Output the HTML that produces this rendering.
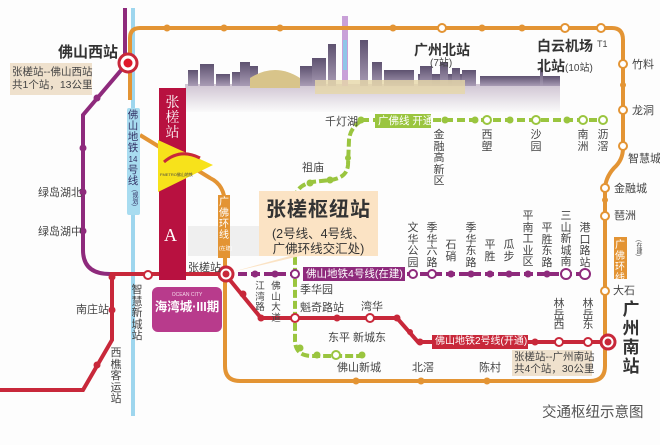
<!DOCTYPE html>
<html><head><meta charset="utf-8"><style>
body{margin:0;background:#fff}
#w{position:relative;width:660px;height:445px;overflow:hidden;background:#fdfdfd;font-family:"Liberation Sans","Noto Sans CJK SC",sans-serif;color:#444}
.t{position:absolute;font-size:11px;line-height:12px;white-space:nowrap}
.v{position:absolute;font-size:11px;line-height:11.5px;width:12px;text-align:center;word-break:break-all;white-space:normal}
.b{font-weight:bold;color:#333}
</style></head><body><div id="w">
<svg width="660" height="445" style="position:absolute;left:0;top:0">
<defs>
<linearGradient id="sk" x1="0" y1="0" x2="0" y2="1"><stop offset="0" stop-color="#5e5270"/><stop offset="1" stop-color="#a99cb5"/></linearGradient>
<linearGradient id="rf" x1="0" y1="0" x2="0" y2="1"><stop offset="0" stop-color="#cfc4d2"/><stop offset="1" stop-color="#fafafa"/></linearGradient>
</defs>
<rect x="185" y="84" width="375" height="28" fill="url(#rf)"/>
<g fill="url(#sk)">
<rect x="188" y="70" width="10" height="16"/><rect x="200" y="64" width="14" height="22"/><rect x="216" y="74" width="14" height="12"/><rect x="232" y="72" width="12" height="14"/>
<rect x="240" y="62" width="10" height="24"/><rect x="250" y="66" width="8" height="20"/><rect x="300" y="66" width="12" height="20"/>
<rect x="312" y="58" width="14" height="28"/><rect x="328" y="44" width="8" height="42"/><rect x="360" y="40" width="8" height="46"/>
<rect x="372" y="62" width="10" height="24"/><rect x="384" y="70" width="30" height="16"/><rect x="418" y="74" width="50" height="12"/>
<rect x="420" y="66" width="12" height="20"/><rect x="440" y="62" width="8" height="24"/><rect x="452" y="68" width="8" height="18"/><rect x="462" y="70" width="14" height="16"/><rect x="480" y="76" width="80" height="10"/>
<rect x="540" y="68" width="3" height="18"/>
</g>
<rect x="342" y="16" width="6" height="70" fill="#c9a0d8"/>
<rect x="343" y="40" width="4" height="30" fill="#8fc6e8"/>
<path d="M250 78 Q275 62 300 78 L300 88 L250 88Z" fill="#d8c48a"/>
<rect x="315" y="80" width="150" height="14" fill="#e6d7a8" opacity=".8"/>
<rect x="188" y="226" width="72" height="30" fill="#efefef"/>
<line x1="133" y1="8" x2="133" y2="416" stroke="#9ed6ee" stroke-width="4"/>
<path d="M130 100 L130 38 Q130 28 140 28 L612 28 Q623 28 623 40 L623 148 Q623 160 614 168 Q605 178 605 190 L605 366 Q605 381 590 381 L240 381 Q225 381 225 366 L225 205 Q225 185 210 178 L140 135" fill="none" stroke="#e39434" stroke-width="4"/>
<path d="M125 8 L125 55 L128 62 L83 115 L83 250 Q83 274 110 274 L120 274" fill="none" stroke="#8e2a7c" stroke-width="4"/>
<path d="M0 390 L83 390 L112 340 L112 274 L225 274 L261 318 L397 318 L418 342 L608 342" fill="none" stroke="#c8283a" stroke-width="4"/>
<path d="M225 274 L586 274" stroke="#8e2a7c" stroke-width="4" stroke-dasharray="9 4"/>
<path d="M361 120 L604 120" stroke="#9ac53f" stroke-width="4" stroke-dasharray="8 4"/>
<path d="M361 121 Q350 128 349 140 L348 165 Q347 178 330 180 L312 182 Q295 186 295 200 L295 340 Q295 356 312 356 L362 356" fill="none" stroke="#9ac53f" stroke-width="4" stroke-dasharray="8 3"/>
<g fill="#e39434">
<circle cx="167" cy="28" r="3.5"/><circle cx="224" cy="28" r="3.5"/><circle cx="280" cy="28" r="3.5"/><circle cx="393" cy="28" r="3.5"/><circle cx="482" cy="28" r="3.5"/><circle cx="522" cy="28" r="3.5"/>
<circle cx="623" cy="85" r="3"/><circle cx="605" cy="200" r="3"/><circle cx="356" cy="381" r="3.5"/><circle cx="421" cy="381" r="3.5"/><circle cx="487" cy="381" r="3.5"/>
</g>
<g fill="#fff" stroke="#e39434" stroke-width="2">
<circle cx="442" cy="28" r="4"/><circle cx="565" cy="28" r="4"/><circle cx="601" cy="28" r="4"/><circle cx="623" cy="64" r="4"/><circle cx="623" cy="110" r="4"/><circle cx="623" cy="146" r="4"/><circle cx="605" cy="188" r="4"/><circle cx="605" cy="216" r="4"/><circle cx="605" cy="291" r="4"/>
</g>
<g fill="#8e2a7c"><circle cx="97" cy="98" r="3.5"/><circle cx="83" cy="148" r="3.5"/><circle cx="83" cy="192" r="3.5"/><circle cx="83" cy="231" r="3.5"/>
<circle cx="255" cy="274" r="3.5"/><circle cx="275" cy="274" r="3.5"/><circle cx="451" cy="274" r="3.5"/><circle cx="471" cy="274" r="3.5"/><circle cx="490" cy="274" r="3.5"/><circle cx="509" cy="274" r="3.5"/><circle cx="528" cy="274" r="3.5"/><circle cx="547" cy="274" r="3.5"/></g>
<g fill="#fff" stroke="#8e2a7c" stroke-width="2"><circle cx="295" cy="274" r="4"/><circle cx="413" cy="274" r="4"/><circle cx="432" cy="274" r="4"/><circle cx="566" cy="274" r="5"/><circle cx="585" cy="274" r="5"/></g>
<g fill="#c8283a"><circle cx="112" cy="277" r="3.5"/><circle cx="112" cy="310" r="3.5"/><circle cx="97" cy="365" r="3.5"/><circle cx="243" cy="294" r="3.5"/><circle cx="261" cy="318" r="3.5"/><circle cx="337" cy="318" r="3.5"/><circle cx="397" cy="318" r="3.5"/><circle cx="410" cy="332" r="3"/><circle cx="420" cy="342" r="3.5"/><circle cx="535" cy="342" r="3.5"/></g>
<g fill="#fff" stroke="#c8283a" stroke-width="2"><circle cx="148" cy="275" r="4"/><circle cx="370" cy="318" r="4"/><circle cx="559" cy="342" r="4"/><circle cx="588" cy="342" r="4"/><circle cx="295" cy="318" r="4"/></g>
<g fill="#9ac53f"><circle cx="445" cy="120" r="3.5"/><circle cx="475" cy="120" r="3.5"/><circle cx="510" cy="120" r="3.5"/><circle cx="567" cy="120" r="3.5"/><circle cx="310" cy="183" r="3.5"/><circle cx="330" cy="180" r="3.5"/><circle cx="348" cy="158" r="3"/><circle cx="361" cy="120" r="3.5"/><circle cx="300" cy="348" r="3.5"/><circle cx="317" cy="355" r="3.5"/><circle cx="362" cy="355" r="3.5"/></g>
<g fill="#fff" stroke="#9ac53f" stroke-width="2"><circle cx="487" cy="120" r="4"/><circle cx="536" cy="120" r="4"/><circle cx="583" cy="120" r="4"/><circle cx="603" cy="120" r="4"/><circle cx="336" cy="355" r="4"/></g>
<circle cx="128" cy="63" r="9" fill="#fff" stroke="#c8283a" stroke-width="3"/><circle cx="128" cy="63" r="4.5" fill="#e0182a"/>
<circle cx="226" cy="274" r="7" fill="#fff" stroke="#c8283a" stroke-width="3"/><circle cx="226" cy="274" r="3.5" fill="#c8283a"/>
<circle cx="608" cy="342" r="7" fill="#fff" stroke="#c8283a" stroke-width="3"/><circle cx="608" cy="342" r="3.5" fill="#c8283a"/>
<rect x="159" y="88" width="27" height="192" fill="#b81140"/>
<path d="M158 140 L213 165 L158 192Z" fill="#f7e21b"/>
<path d="M164 162 Q180 148 200 158" fill="none" stroke="#c8283a" stroke-width="3"/>
<text x="160" y="176" font-size="4" fill="#444">FMETRO佛山地铁</text>
<rect x="152" y="287" width="70" height="45" rx="6" fill="#b83b8c"/>
<path d="M290 256 L232 272 L300 256Z" fill="#fbe3c4"/>
<rect x="259" y="191" width="119" height="65" fill="#fbe3c4"/>
<rect x="127" y="108" width="13" height="107" rx="2" fill="#a8dcf0"/>
<rect x="218" y="195" width="12" height="63" fill="#e39434"/>
<rect x="614" y="237" width="13" height="42" fill="#e39434"/>
<rect x="375" y="114" width="56" height="14" fill="#9ac53f"/>
<rect x="303" y="267" width="102" height="14" fill="#8e2a7c"/>
<rect x="432" y="335" width="96" height="14" fill="#c8283a"/>
<rect x="10" y="63" width="82" height="32" fill="#efe1cd"/>
<rect x="512" y="350" width="80" height="26" fill="#efe1cd"/>
</svg>
<div class="t b" style="left:58px;top:45px;font-size:15px;line-height:16px">佛山西站</div>
<div class="t" style="left:12px;top:66px;width:78px;text-align:center;font-size:10.5px;line-height:13px">张槎站--佛山西站<br>共1个站，13公里</div>
<div class="t" style="left:38px;top:187px">绿岛湖北</div>
<div class="t" style="left:38px;top:226px">绿岛湖中</div>
<div class="t" style="left:76px;top:304px">南庄站</div>
<div class="v" style="left:110px;top:348px">西樵客运站</div>
<div class="v" style="left:131px;top:285px">智慧新城站</div>
<div class="v" style="left:127px;top:110px;color:#336;font-size:10.5px;line-height:11px">佛山地铁<span style="font-size:8px;line-height:11px;display:block">14</span>号线</div>
<div class="t" style="left:128px;top:190px;font-size:6px;color:#336;writing-mode:vertical-rl">(规划)</div>
<div class="v" style="left:159px;top:95px;color:#fff;font-size:14px;line-height:15px;width:27px;font-family:'Noto Serif CJK SC',serif">张槎站</div>
<div class="t" style="left:164px;top:225px;color:#fff;font-size:18px;line-height:20px;font-family:'Liberation Serif',serif">A</div>
<div class="t" style="left:152px;top:292px;width:70px;text-align:center;color:#f5d8ea;font-size:5px;line-height:6px">OCEAN CITY</div>
<div class="t b" style="left:152px;top:300px;width:70px;text-align:center;color:#fff;font-size:12.5px;line-height:14px">海湾城·III期</div>
<div class="v" style="left:218px;top:197px;color:#fff;font-size:10px;line-height:11px">广佛环线</div>
<div class="t" style="left:219px;top:243px;font-size:5px;color:#fff">(在建)</div>
<div class="t" style="left:188px;top:262px">张槎站</div>
<div class="t b" style="left:259px;top:199px;width:119px;text-align:center;font-size:20px;line-height:22px;letter-spacing:1px">张槎枢纽站</div>
<div class="t" style="left:259px;top:227px;width:119px;text-align:center;font-size:12.5px;line-height:15px;color:#333">(2号线、4号线、<br>广佛环线交汇处)</div>
<div class="t" style="left:325px;top:116px">千灯湖</div>
<div class="t" style="left:302px;top:162px">祖庙</div>
<div class="t" style="left:378px;top:115px;color:#fff;font-size:10.5px">广佛线 开通</div>
<div class="v" style="left:433px;top:130px">金融高新区</div>
<div class="v" style="left:481px;top:130px">西塱</div>
<div class="v" style="left:530px;top:130px">沙园</div>
<div class="v" style="left:577px;top:130px">南洲</div>
<div class="v" style="left:597px;top:130px">沥滘</div>
<div class="t b" style="left:414px;top:42px;font-size:14px;line-height:16px">广州北站</div>
<div class="t" style="left:430px;top:58px;font-size:10px">(7站)</div>
<div class="t b" style="left:537px;top:38px;font-size:14px;line-height:16px">白云机场</div>
<div class="t" style="left:537px;top:60px;font-size:10px"><b style="font-size:14px;color:#333">北站</b>(10站)</div>
<div class="t" style="left:597px;top:38px;font-size:9px">T1</div>
<div class="t" style="left:632px;top:59px">竹料</div>
<div class="t" style="left:632px;top:105px">龙洞</div>
<div class="t" style="left:628px;top:153px">智慧城</div>
<div class="t" style="left:614px;top:183px">金融城</div>
<div class="t" style="left:614px;top:210px">琶洲</div>
<div class="v" style="left:614px;top:240px;color:#fff;font-size:10px;line-height:11px">广佛环线</div>
<div class="t" style="left:632px;top:240px;font-size:6px;writing-mode:vertical-rl">(在建)</div>
<div class="t" style="left:613px;top:285px">大石</div>
<div class="v b" style="left:622px;top:300px;width:18px;font-size:17px;line-height:19px">广州南站</div>
<div class="v" style="left:407px;top:223px">文华公园</div>
<div class="v" style="left:426px;top:223px">季华六路</div>
<div class="v" style="left:445px;top:240px">石硝</div>
<div class="v" style="left:465px;top:223px">季华东路</div>
<div class="v" style="left:484px;top:240px">平胜</div>
<div class="v" style="left:503px;top:240px">瓜步</div>
<div class="v" style="left:522px;top:211px">平南工业区</div>
<div class="v" style="left:541px;top:223px">平胜东路</div>
<div class="v" style="left:560px;top:211px">三山新城南</div>
<div class="v" style="left:579px;top:223px">港口路站</div>
<div class="t" style="left:306px;top:268px;color:#fff;font-size:10.5px">佛山地铁4号线(在建)</div>
<div class="v" style="left:254px;top:282px;font-size:9.5px;line-height:10.5px">江湾路</div>
<div class="v" style="left:270px;top:282px;font-size:9.5px;line-height:10.5px">佛山大道</div>
<div class="t" style="left:300px;top:284px">季华园</div>
<div class="t" style="left:300px;top:302px">魁奇路站</div>
<div class="t" style="left:361px;top:301px">湾华</div>
<div class="t" style="left:328px;top:332px">东平 新城东</div>
<div class="t" style="left:337px;top:362px">佛山新城</div>
<div class="t" style="left:412px;top:362px">北滘</div>
<div class="t" style="left:479px;top:362px">陈村</div>
<div class="t" style="left:435px;top:336px;color:#fff;font-size:10px">佛山地铁2号线(开通)</div>
<div class="v" style="left:553px;top:299px;line-height:10.5px">林岳西</div>
<div class="v" style="left:582px;top:299px;line-height:10.5px">林岳东</div>
<div class="t" style="left:514px;top:351px;width:78px;text-align:center;font-size:10.5px;line-height:12px">张槎站--广州南站<br>共4个站，30公里</div>
<div class="t" style="left:542px;top:405px;font-size:14.5px;line-height:16px;color:#555">交通枢纽示意图</div>
</div></body></html>
